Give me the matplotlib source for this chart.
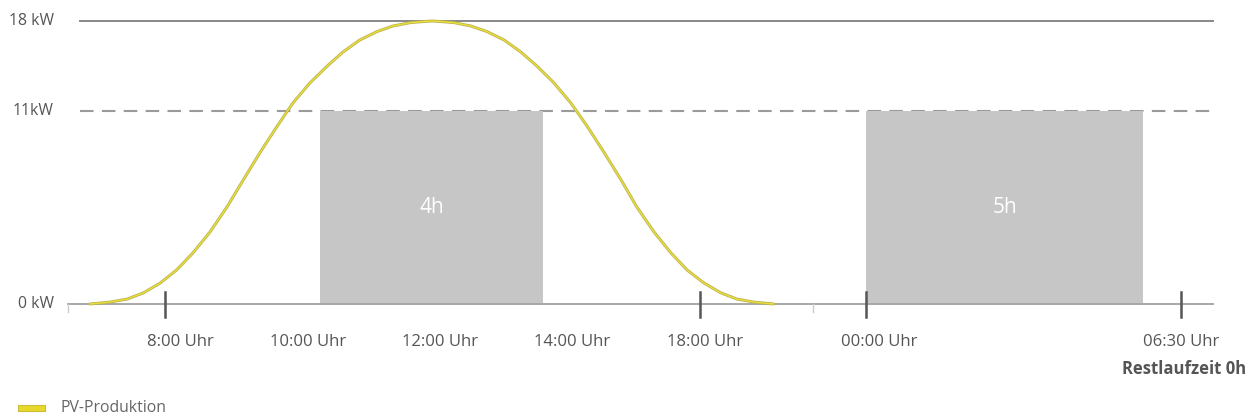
import numpy as np
import matplotlib
matplotlib.use("Agg")
import matplotlib.pyplot as plt
from matplotlib.transforms import offset_copy

plt.rcParams['font.family'] = ['Open Sans', 'DejaVu Sans']

# --- data -------------------------------------------------------------
# PV production curve (hour of day, kW)
pv_hour = [7.03, 7.29, 7.51, 7.72, 7.94, 8.15, 8.36, 8.58, 8.80, 9.01, 9.23,
           9.45, 9.65, 9.87, 10.13, 10.41, 10.71, 11.02, 11.30, 11.61, 11.91,
           12.0, 12.09, 12.40, 12.70, 12.99, 13.30, 13.60, 13.89, 14.28,
           14.71, 15.12, 15.55, 15.99, 16.39, 16.83, 17.26, 17.67, 18.14,
           18.76, 19.34, 19.95, 20.67]
pv_kw = [0.0, 0.11, 0.28, 0.63, 1.20, 1.94, 2.91, 4.10, 5.53, 7.07, 8.66,
         10.15, 11.62, 13.18, 14.50, 15.59, 16.52, 17.18, 17.61, 17.87, 17.98,
         18.0, 17.98, 17.87, 17.61, 17.18, 16.52, 15.59, 14.50, 13.18,
         11.62, 10.15, 8.66, 7.07, 5.53, 4.10, 2.91, 1.94, 1.20,
         0.63, 0.28, 0.11, 0.0]

# charging blocks (start hour, duration h, power kW)
block_start = [10, 24]
block_hours = [4, 5]
block_kw = [11, 11]
block_labels = ['4h', '5h']

tick_hours = [8, 10, 12, 14, 18, 24, 30.5]
tick_labels = ['8:00 Uhr', '10:00 Uhr', '12:00 Uhr', '14:00 Uhr',
               '18:00 Uhr', '00:00 Uhr', '06:30 Uhr']
mark_hours = [8, 18, 24, 30.5]

levels_kw = [0, 11, 18]
level_labels = ['0 kW', '11kW', '18 kW']

# --- schematic (non-linear) axes as drawn in the original ----------------
x_anchor_h = [8, 10, 12, 14, 18, 24, 29, 30.5]
x_anchor_px = [165, 320, 432, 543, 700, 866, 1143, 1181]
y_anchor_kw = [0, 11, 18]
y_anchor_px = [115, 308, 398]


def piecewise(xp, fp):
    xp = np.asarray(xp, float)
    fp = np.asarray(fp, float)

    def f(v):
        v = np.asarray(v, float)
        out = np.interp(v, xp, fp)
        out = np.where(v < xp[0], fp[0] + (v - xp[0]) * (fp[1] - fp[0]) / (xp[1] - xp[0]), out)
        out = np.where(v > xp[-1], fp[-1] + (v - xp[-1]) * (fp[-1] - fp[-2]) / (xp[-1] - xp[-2]), out)
        return out
    return f


W, H = 1247, 419
fig = plt.figure(figsize=(W / 100, H / 100), dpi=100)
ax = fig.add_axes([0, 0, 1, 1])
ax.set_xscale('function', functions=(piecewise(x_anchor_h, x_anchor_px),
                                     piecewise(x_anchor_px, x_anchor_h)))
ax.set_yscale('function', functions=(piecewise(y_anchor_kw, y_anchor_px),
                                     piecewise(y_anchor_px, y_anchor_kw)))
xinv = piecewise(x_anchor_px, x_anchor_h)
yinv = piecewise(y_anchor_px, y_anchor_kw)
ax.set_xlim(float(xinv(0)), float(xinv(W)))
ax.set_ylim(float(yinv(0)), float(yinv(H)))
ax.axis('off')

txt = '#555555'
x0, x1 = 80 / W, 1213 / W

# reference lines
ax.axhline(levels_kw[2], xmin=x0, xmax=x1, color='#888888', lw=1.4, zorder=1)
ax.axhline(levels_kw[1], xmin=x0, xmax=x1, color='#9a9a9a', lw=1.5,
           dashes=(6.5, 4), zorder=1)
ax.axhline(levels_kw[0], xmin=68 / W, xmax=x1, color='#a8a8a8', lw=1.4, zorder=3)

# charging blocks
ax.bar(block_start, block_kw, width=block_hours, align='edge',
       color='#c6c6c6', zorder=2)
for s, d, k, lab in zip(block_start, block_hours, block_kw, block_labels):
    ax.text(s + d / 2, k / 2, lab, color='white', fontsize=15,
            ha='center', va='center', zorder=4)

# PV curve
ax.plot(pv_hour, pv_kw, color='#b8b050', lw=2.1, zorder=5,
        solid_capstyle='round', solid_joinstyle='round')
ax.plot(pv_hour, pv_kw, color='#eadf3a', lw=1.0, zorder=6,
        solid_capstyle='round', solid_joinstyle='round')

# tick marks
xt = ax.get_xaxis_transform()
for h in mark_hours:
    ax.plot([h, h], [1 - 292 / H, 1 - 317 / H], transform=xt,
            color='#555555', lw=1.8, zorder=7)
for h in [float(xinv(68)), float(xinv(813))]:
    ax.plot([h, h], [1 - 304 / H, 1 - 312 / H], transform=xt,
            color='#cccccc', lw=1.0, zorder=7)

# tick labels (slightly shifted as in the original)
label_dx = [15, -12, 8, 29, 5, 13, 0]
for h, lab, dx in zip(tick_hours, tick_labels, label_dx):
    tr = offset_copy(xt, fig=fig, x=dx, y=0, units='dots')
    ax.text(h, 1 - 342 / H, lab, transform=tr, ha='center', va='center',
            fontsize=12, color=txt)

tr = offset_copy(xt, fig=fig, x=3, y=0, units='dots')
ax.text(tick_hours[-1], 1 - 369 / H, 'Restlaufzeit 0h', transform=tr,
        ha='center', va='center', fontsize=12, fontweight='bold', color=txt)

# y labels
yt = ax.get_yaxis_transform()
for k, lab in zip(levels_kw, level_labels):
    ax.text(54 / W, k, lab, transform=yt, ha='right', va='center',
            fontsize=11.3, color=txt)

# legend
ax.add_patch(plt.Rectangle((18 / W, 1 - 411 / H), 27 / W, 6 / H,
                           transform=ax.transAxes, facecolor='#e8d82a',
                           edgecolor='#c9bd3a', lw=0.8))
ax.text(60 / W, 1 - 408 / H, 'PV-Produktion', transform=ax.transAxes,
        ha='left', va='center', fontsize=11.3, color='#666666')

fig.savefig('out.png', dpi=100)
